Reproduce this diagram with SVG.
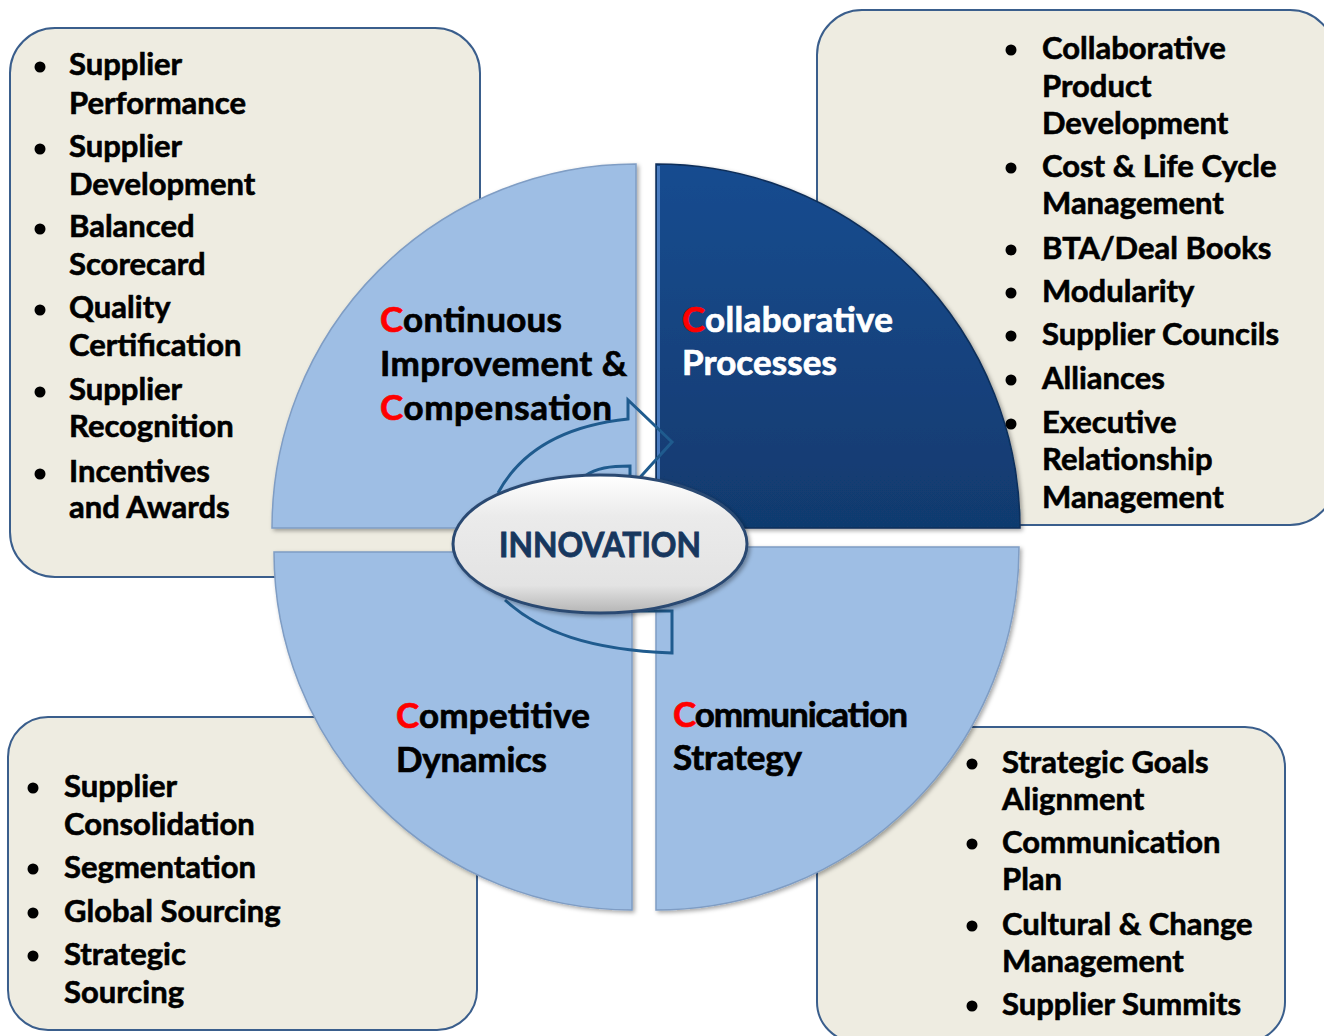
<svg xmlns="http://www.w3.org/2000/svg" width="1324" height="1036" viewBox="0 0 1324 1036">
<style>
.box{fill:#EEECE1;stroke:#3A5E8C;stroke-width:2}
.lq{fill:#9EBEE4;stroke:#7F9DC4;stroke-width:1.5}
.t{font-family:Lato,"Open Sans",sans-serif;font-weight:700;font-size:31px;fill:#000;stroke:#000;stroke-width:0.6}
.q{font-family:Lato,"Open Sans",sans-serif;font-weight:700;font-size:35px;fill:#000;stroke:#000;stroke-width:0.7}
.r{fill:#FF0000;stroke:#FF0000}
.w{fill:#FFFFFF;stroke:#FFFFFF}
.inn{fill:#17375E;stroke:#17375E;stroke-width:0.9}
.dot{fill:#000}
.arr{fill:none;stroke:#1F5B8E;stroke-width:3;stroke-linejoin:miter}
</style>
<defs>
<linearGradient id="dk" x1="0" y1="0" x2="0" y2="1">
<stop offset="0" stop-color="#184C90"/>
<stop offset="1" stop-color="#113A6E"/>
</linearGradient>
<linearGradient id="el" x1="0" y1="0" x2="0" y2="1">
<stop offset="0" stop-color="#FFFFFF"/>
<stop offset="0.3" stop-color="#EBEBEB"/>
<stop offset="0.8" stop-color="#E3E3E3"/>
<stop offset="1" stop-color="#B5B5B5"/>
</linearGradient>
<filter id="sh" x="-10%" y="-10%" width="120%" height="120%">
<feDropShadow dx="2" dy="2" stdDeviation="2" flood-color="#000" flood-opacity="0.35"/>
</filter>
</defs>
<rect width="1324" height="1036" fill="#FFFFFF"/>

<g id="box-tl"><rect class="box" x="10" y="28" width="470" height="549" rx="45"/></g>
<g id="box-tr"><rect class="box" x="817" y="10" width="518" height="515" rx="45"/></g>
<g id="box-bl"><rect class="box" x="8" y="717" width="469" height="313" rx="40"/></g>
<g id="box-br"><rect class="box" x="817" y="727" width="468" height="315" rx="40"/></g>

<g id="quad-tl"><path class="lq" filter="url(#sh)" d="M636,528 L272,528 A364,364 0 0 1 636,164 Z"/></g>
<g id="quad-tr"><path filter="url(#sh)" fill="url(#dk)" stroke="#0E2F5A" stroke-width="1.5" d="M656,528 L656,164 A364,364 0 0 1 1020,528 Z"/>
<line x1="658.5" y1="166" x2="658.5" y2="526" stroke="#4A7CC0" stroke-width="3"/></g>
<g id="quad-bl"><path class="lq" filter="url(#sh)" d="M632,552 L632,910 A358,358 0 0 1 274,552 Z"/></g>
<g id="quad-br"><path class="lq" filter="url(#sh)" d="M656,547 L1019,547 A363,363 0 0 1 656,910 Z"/></g>

<g id="connectors">
<path class="arr" d="M498,493 C520,452 562,426 628,419 L628,400 L672,442 L634,484 L630,481 L630,466 C610,466 596,468 585,476"/>
<path class="arr" d="M505,600 C540,632 590,650 672,653 L672,611 L630,611"/>
</g>

<g id="innovation">
<ellipse cx="600" cy="544" rx="147" ry="69" fill="url(#el)" stroke="#2B4A72" stroke-width="3" filter="url(#sh)"/>
<text class="q inn" x="600" y="557" text-anchor="middle" textLength="202" lengthAdjust="spacingAndGlyphs">INNOVATION</text>
</g>

<g id="label-tl">
<text class="q" x="380" y="332" textLength="182"><tspan class="r">C</tspan>ontinuous</text>
<text class="q" x="380" y="376" textLength="247">Improvement &amp;</text>
<text class="q" x="380" y="420" textLength="232"><tspan class="r">C</tspan>ompensation</text>
</g>
<g id="label-tr">
<text class="q w" x="682" y="332" textLength="211"><tspan class="r">C</tspan>ollaborative</text>
<text class="q w" x="682" y="375" textLength="155">Processes</text>
</g>
<g id="label-bl">
<text class="q" x="396" y="728" textLength="194"><tspan class="r">C</tspan>ompetitive</text>
<text class="q" x="396" y="772" textLength="151">Dynamics</text>
</g>
<g id="label-br">
<text class="q" x="673" y="727" textLength="235"><tspan class="r">C</tspan>ommunication</text>
<text class="q" x="673" y="770" textLength="129">Strategy</text>
</g>

<g id="list-tl">
<circle class="dot" cx="40" cy="67" r="5.5"/><circle class="dot" cx="40" cy="149" r="5.5"/><circle class="dot" cx="40" cy="229" r="5.5"/>
<circle class="dot" cx="40" cy="310" r="5.5"/><circle class="dot" cx="40" cy="392" r="5.5"/><circle class="dot" cx="40" cy="474" r="5.5"/>
<text class="t" x="69" y="75">Supplier</text>
<text class="t" x="69" y="114">Performance</text>
<text class="t" x="69" y="157">Supplier</text>
<text class="t" x="69" y="195">Development</text>
<text class="t" x="69" y="237">Balanced</text>
<text class="t" x="69" y="275">Scorecard</text>
<text class="t" x="69" y="318">Quality</text>
<text class="t" x="69" y="356">Certification</text>
<text class="t" x="69" y="400">Supplier</text>
<text class="t" x="69" y="437">Recognition</text>
<text class="t" x="69" y="482">Incentives</text>
<text class="t" x="69" y="518">and Awards</text>
</g>

<g id="list-tr">
<circle class="dot" cx="1011" cy="50" r="5.5"/><circle class="dot" cx="1011" cy="168" r="5.5"/><circle class="dot" cx="1011" cy="250" r="5.5"/>
<circle class="dot" cx="1011" cy="293" r="5.5"/><circle class="dot" cx="1011" cy="336" r="5.5"/><circle class="dot" cx="1011" cy="380" r="5.5"/>
<circle class="dot" cx="1011" cy="424" r="5.5"/>
<text class="t" x="1042" y="59">Collaborative</text>
<text class="t" x="1042" y="97">Product</text>
<text class="t" x="1042" y="134">Development</text>
<text class="t" x="1042" y="177">Cost &amp; Life Cycle</text>
<text class="t" x="1042" y="214">Management</text>
<text class="t" x="1042" y="259">BTA/Deal Books</text>
<text class="t" x="1042" y="302">Modularity</text>
<text class="t" x="1042" y="345">Supplier Councils</text>
<text class="t" x="1042" y="389">Alliances</text>
<text class="t" x="1042" y="433">Executive</text>
<text class="t" x="1042" y="470">Relationship</text>
<text class="t" x="1042" y="508">Management</text>
</g>

<g id="list-bl">
<circle class="dot" cx="33" cy="788" r="5.5"/><circle class="dot" cx="33" cy="869" r="5.5"/><circle class="dot" cx="33" cy="913" r="5.5"/>
<circle class="dot" cx="33" cy="956" r="5.5"/>
<text class="t" x="64" y="797">Supplier</text>
<text class="t" x="64" y="835">Consolidation</text>
<text class="t" x="64" y="878">Segmentation</text>
<text class="t" x="64" y="922">Global Sourcing</text>
<text class="t" x="64" y="965">Strategic</text>
<text class="t" x="64" y="1003">Sourcing</text>
</g>

<g id="list-br">
<circle class="dot" cx="972" cy="764" r="5.5"/><circle class="dot" cx="972" cy="844" r="5.5"/><circle class="dot" cx="972" cy="926" r="5.5"/>
<circle class="dot" cx="972" cy="1006" r="5.5"/>
<text class="t" x="1002" y="773">Strategic Goals</text>
<text class="t" x="1002" y="810">Alignment</text>
<text class="t" x="1002" y="853">Communication</text>
<text class="t" x="1002" y="890">Plan</text>
<text class="t" x="1002" y="935">Cultural &amp; Change</text>
<text class="t" x="1002" y="972">Management</text>
<text class="t" x="1002" y="1015">Supplier Summits</text>
</g>
</svg>
